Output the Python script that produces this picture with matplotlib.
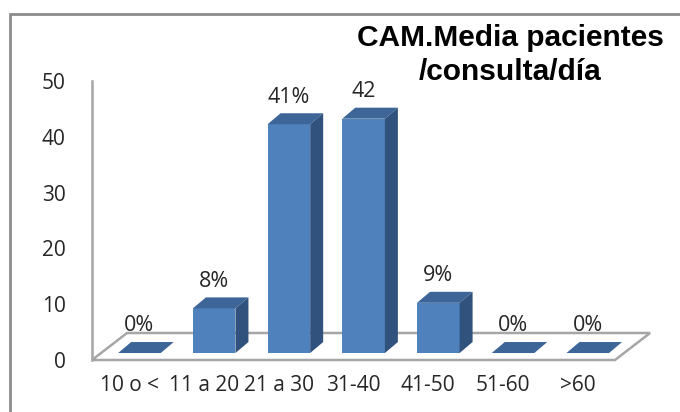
# Librerias

import numpy as np
import matplotlib.pyplot as plt
from matplotlib.patches import Polygon, Rectangle

# Datos

categorias = ["10 o <", "11 a 20", "21 a 30", "31-40", "41-50", "51-60", ">60"]
valores = [0, 8, 41, 42, 9, 0, 0]
etiquetas = ["0%", "8%", "41%", "42", "9%", "0%", "0%"]
y_ticks = [0, 10, 20, 30, 40, 50]
titulo = ["CAM.Media pacientes", "/consulta/día"]

# Estilo

FUENTE = "Open Sans"
C_FRENTE = "#4f81bd"
C_LADO = "#31527d"
C_TOP = "#3d6598"
C_GRIS = "#a6a6a6"

# Geometria "3D" (en unidades de datos)
ANCHO = 0.57          # ancho frontal de la barra
X0 = 0.35             # desplazamiento de la barra dentro de la categoria
BASE = 1.25           # altura de la base de la barra sobre el borde frontal del suelo
DDX, DDY = 0.174, 1.97    # profundidad de la barra
FDX, FDY = 0.469, 4.84    # profundidad del suelo

fig = plt.figure(figsize=(6.8, 4.12), dpi=100)
ax = fig.add_axes([92 / 680, 52 / 412, 523 / 680, 279 / 412])
ax.set_xlim(0, len(categorias))
ax.set_ylim(0, 50)

# Suelo
n = len(categorias)
suelo = Polygon([(0, 0), (n, 0), (n + FDX, FDY), (FDX, FDY)], closed=True,
                facecolor="white", edgecolor=C_GRIS, lw=1.8, clip_on=False, zorder=1)
ax.add_patch(suelo)

# Barras
x = np.arange(n) + X0
ax.bar(x, valores, width=ANCHO, bottom=BASE, align="edge", color=C_FRENTE,
       edgecolor="none", zorder=3)

for xi, v, et in zip(x, valores, etiquetas):
    top = BASE + v
    tapa = Polygon([(xi, top), (xi + ANCHO, top), (xi + ANCHO + DDX, top + DDY),
                    (xi + DDX, top + DDY)], closed=True, facecolor=C_TOP,
                   edgecolor="none", zorder=3, clip_on=False)
    ax.add_patch(tapa)
    if v > 0:
        lado = Polygon([(xi + ANCHO, BASE), (xi + ANCHO + DDX, BASE + DDY),
                        (xi + ANCHO + DDX, top + DDY), (xi + ANCHO, top)], closed=True,
                       facecolor=C_LADO, edgecolor="none", zorder=3, clip_on=False)
        ax.add_patch(lado)
    ax.text(xi + ANCHO / 2, top + DDY + 2.9, et, ha="center", va="center",
            fontsize=15.5, family=FUENTE, color="#262626", zorder=4)

# Ejes
for s in ["top", "right", "bottom"]:
    ax.spines[s].set_visible(False)
ax.spines["left"].set_color(C_GRIS)
ax.spines["left"].set_linewidth(1.8)
ax.patch.set_visible(False)

ax.set_yticks(y_ticks)
ax.set_yticklabels([str(t) for t in y_ticks], family=FUENTE, fontsize=15, color="#262626")
ax.set_xticks(np.arange(n) + 0.5)
ax.set_xticklabels(categorias, family=FUENTE, fontsize=15, color="#262626")
ax.tick_params(axis="y", length=0, pad=19)
ax.tick_params(axis="x", length=0, pad=11)

# Titulo (dos lineas)
for linea, y_px in zip(titulo, [38, 72]):
    fig.text(510 / 680, 1 - y_px / 412, linea, ha="center", va="center",
             fontsize=21.5, fontweight="bold", family="Liberation Sans", color="black")

# Marco
fig.add_artist(Rectangle((10 / 680, -0.5), 1.5, 1.5 - 14 / 412, transform=fig.transFigure,
                         fill=False, edgecolor="#8c8c8c", lw=2))

plt.savefig("out.png", dpi=100)
